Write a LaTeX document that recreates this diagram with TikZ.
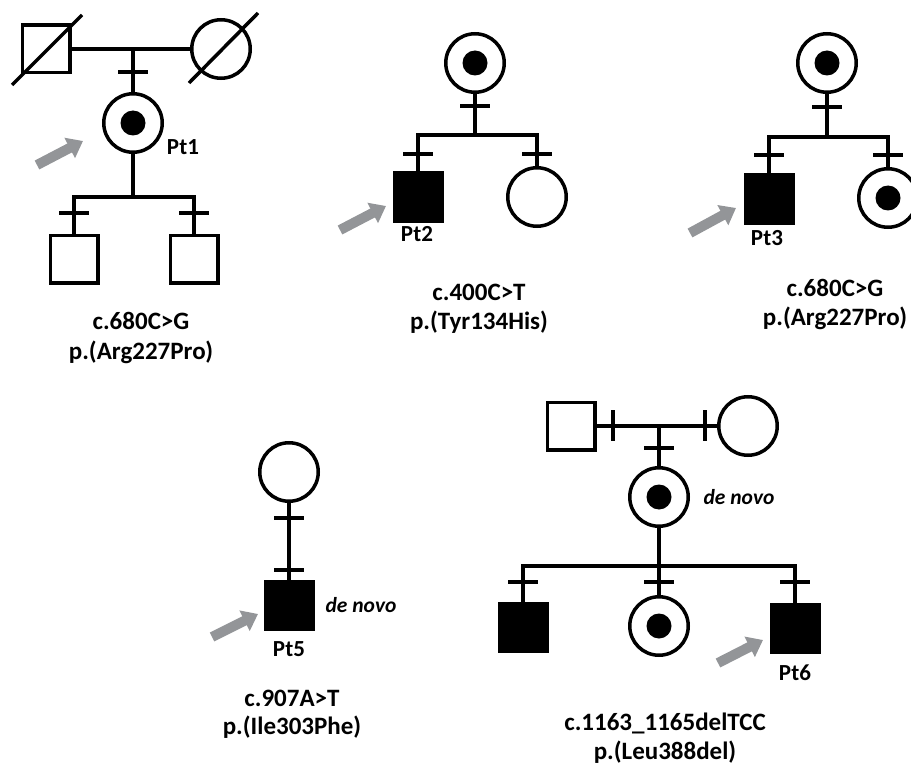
\documentclass[tikz,border=0pt]{standalone}
\usepackage{fontspec}
\setmainfont{Carlito}
\usetikzlibrary{arrows.meta}
\definecolor{arrowgray}{RGB}{147,149,152}
\begin{document}
\begin{tikzpicture}[x=1pt,y=-1pt,
  ped/.style={line width=3.5pt, line join=miter},
  male/.style={draw, line width=3.5pt, rectangle, minimum size=47.5pt, inner sep=0pt},
  female/.style={draw, line width=3.5pt, circle, minimum size=58.5pt, inner sep=0pt},
  aff/.style={fill=black},
  carrier/.style={path picture={\fill (path picture bounding box.center) circle[radius=12.5pt];}},
  pointer/.style={draw=arrowgray, fill=arrowgray, line width=10pt, -{Triangle[width=22pt,length=15pt]}},
  ptlbl/.style={font=\bfseries\fontsize{23}{25}\selectfont, inner sep=0pt},
  mut/.style={font=\bfseries\fontsize{25}{28}\selectfont, inner sep=0pt},
  dn/.style={font=\bfseries\itshape\fontsize{21.5}{24}\selectfont, inner sep=0pt}]
\useasboundingbox (0,0) rectangle (911,765);

% ---------------- Pedigree 1 ----------------
\node[male] (p1f) at (46,49) {};
\node[female] (p1m) at (221,49) {};
\draw[ped] (12,85) -- (82,15);
\draw[ped] (189,83) -- (258,13);
\draw[ped] (p1f) -- (p1m);
\coordinate (p1mar) at (133,49);
\node[female,carrier] (pt1) at (133,123) {};
\draw[ped] (p1mar) -- (pt1);
\draw[ped] (118,72) -- (148,72);
\coordinate (p1sib) at (133,197);
\draw[ped] (pt1) -- (p1sib);
\node[male] (p1c1) at (74,259) {};
\node[male] (p1c2) at (194,259) {};
\draw[ped] (p1c1.north) -- (p1c1.north |- p1sib) -- (p1c2.north |- p1sib) -- (p1c2.north);
\draw[ped] (59,213) -- (89,213);
\draw[ped] (179,213) -- (209,213);
\node[ptlbl] (l1) at (183,147) {Pt1};
\coordinate (a1s) at (37,165);
\coordinate (a1e) at (83,141);
\draw[pointer] (a1s) -- (a1e);
\node[mut] (m1a) at (141,321) {c.680C>G};
\node[mut] (m1b) at (141,352) {p.(Arg227Pro)};

% ---------------- Pedigree 2 ----------------
\node[female,carrier] (p2m) at (475,63) {};
\coordinate (p2sib) at (475,135);
\draw[ped] (p2m) -- (p2sib);
\draw[ped] (460,106) -- (490,106);
\node[male,aff] (pt2) at (418,197) {};
\node[female] (p2s) at (537,197) {};
\draw[ped] (pt2.north) -- (pt2.north |- p2sib) -- (p2s.north |- p2sib) -- (p2s.north);
\draw[ped] (403,154) -- (433,154);
\draw[ped] (522,154) -- (552,154);
\node[ptlbl] (l2) at (417,234) {Pt2};
\coordinate (a2s) at (340,230);
\coordinate (a2e) at (386,206);
\draw[pointer] (a2s) -- (a2e);
\node[mut] (m2a) at (479,292) {c.400C>T};
\node[mut] (m2b) at (479,322) {p.(Tyr134His)};

% ---------------- Pedigree 3 ----------------
\node[female,carrier] (p3m) at (827,63) {};
\coordinate (p3sib) at (827,137);
\draw[ped] (p3m) -- (p3sib);
\draw[ped] (812,107) -- (842,107);
\node[male,aff] (pt3) at (769,199) {};
\node[female,carrier] (p3s) at (888,198) {};
\draw[ped] (pt3.north) -- (pt3.north |- p3sib) -- (p3s.north |- p3sib) -- (p3s.north);
\draw[ped] (754,155) -- (784,155);
\draw[ped] (873,155) -- (903,155);
\node[ptlbl] (l3) at (767,238) {Pt3};
\coordinate (a3s) at (690,233);
\coordinate (a3e) at (736,208);
\draw[pointer] (a3s) -- (a3e);
\node[mut] (m3a) at (835,288) {c.680C>G};
\node[mut] (m3b) at (835,318) {p.(Arg227Pro)};

% ---------------- Pedigree 5 ----------------
\node[female] (p5m) at (289,472) {};
\node[male,aff] (pt5) at (289,605) {};
\draw[ped] (p5m) -- (pt5);
\draw[ped] (274,518) -- (304,518);
\draw[ped] (274,570) -- (304,570);
\node[dn] (dn5) at (361,605) {de novo};
\node[ptlbl] (l5) at (289,649) {Pt5};
\coordinate (a5s) at (212,637);
\coordinate (a5e) at (258,614);
\draw[pointer] (a5s) -- (a5e);
\node[mut] (m5a) at (292,698) {c.907A>T};
\node[mut] (m5b) at (292,727) {p.(Ile303Phe)};

% ---------------- Pedigree 6 ----------------
\node[male] (p6f) at (571,426) {};
\node[female] (p6m) at (748,426) {};
\draw[ped] (p6f) -- (p6m);
\draw[ped] (613,410) -- (613,441);
\draw[ped] (705,410) -- (705,441);
\coordinate (p6mar) at (659,426);
\node[female,carrier] (p6c) at (659,497) {};
\draw[ped] (p6mar) -- (p6c);
\draw[ped] (644,448) -- (674,448);
\node[dn] (dn6) at (739,497) {de novo};
\coordinate (p6sib) at (659,566);
\draw[ped] (p6c) -- (p6sib);
\node[male,aff] (p6k1) at (523,627) {};
\node[female,carrier] (p6k2) at (659,626) {};
\node[male,aff] (pt6) at (795,628) {};
\draw[ped] (p6k1.north) -- (p6k1.north |- p6sib) -- (pt6.north |- p6sib) -- (pt6.north);
\draw[ped] (p6sib) -- (p6k2);
\draw[ped] (508,582) -- (538,582);
\draw[ped] (644,582) -- (674,582);
\draw[ped] (780,582) -- (810,582);
\node[ptlbl] (l6) at (795,673) {Pt6};
\coordinate (a6s) at (718,663);
\coordinate (a6e) at (763,640);
\draw[pointer] (a6s) -- (a6e);
\node[mut] (m6a) at (665,723) {c.1163\_1165delTCC};
\node[mut] (m6b) at (665,752) {p.(Leu388del)};
\end{tikzpicture}
\end{document}
